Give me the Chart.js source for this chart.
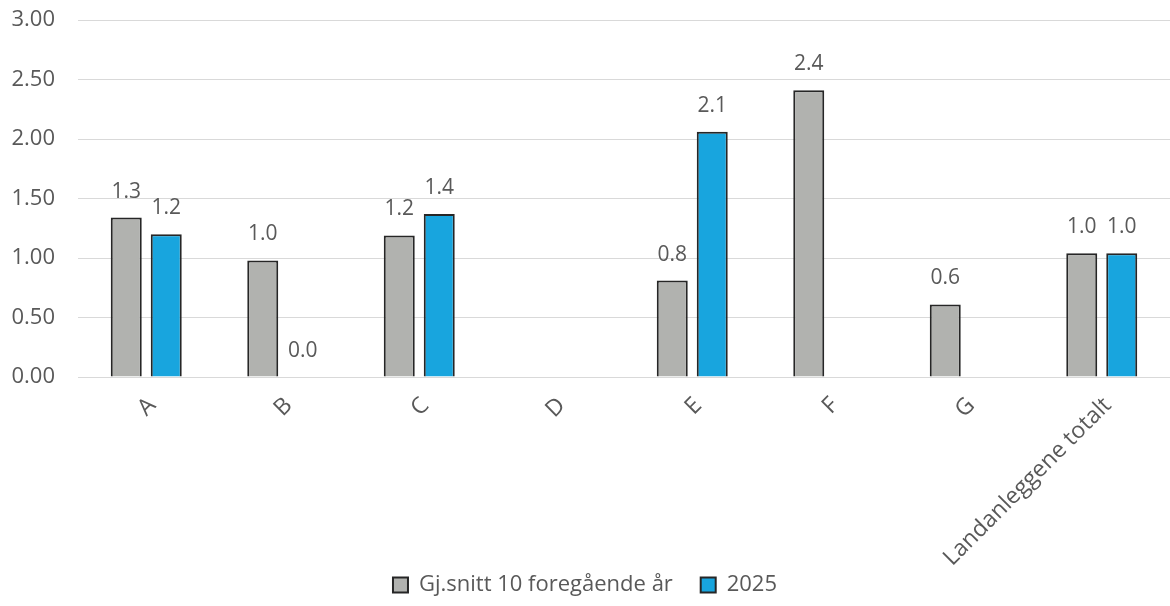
<!DOCTYPE html>
<html>
<head>
  <meta charset="utf-8" />
  <title>Gjennomsnitt per anlegg</title>
  <script src="https://cdn.jsdelivr.net/npm/chart.js"></script>
  <style>
    html, body {
      margin: 0;
      padding: 0;
      background: #fff;
    }
    #wrap {
      width: 1170px;
      height: 606px;
    }
  </style>
</head>
<body>
  <div id="wrap"><canvas id="chart"></canvas></div>

  <script>
    var categories = ['A', 'B', 'C', 'D', 'E', 'F', 'G', 'Landanleggene totalt'];
    var avgTenYears = [1.34, 0.98, 1.19, null, 0.81, 2.41, 0.61, 1.04];
    var year2025 = [1.20, 0.0, 1.37, null, 2.06, null, null, 1.04];
    var yTicks = [0, 0.5, 1, 1.5, 2, 2.5, 3];

    var fontFamily = '"Open Sans", "Noto Sans", sans-serif';
    var textColor = '#595959';

    // value labels above each bar
    var valueLabels = {
      id: 'valueLabels',
      afterDatasetsDraw: function (chart) {
        var ctx = chart.ctx;
        ctx.save();
        ctx.font = '21px ' + fontFamily;
        ctx.fillStyle = textColor;
        ctx.textAlign = 'center';
        ctx.textBaseline = 'middle';
        chart.data.datasets.forEach(function (ds, i) {
          var meta = chart.getDatasetMeta(i);
          meta.data.forEach(function (bar, j) {
            var v = ds.data[j];
            if (v === null || v === undefined) return;
            ctx.fillText(v.toFixed(1), bar.x, bar.y - 26);
          });
        });
        ctx.restore();
      }
    };

    var ctx = document.getElementById('chart').getContext('2d');
    new Chart(ctx, {
      type: 'bar',
      data: {
        labels: categories,
        datasets: [{
          label: 'Gj.snitt 10 foregående år',
          data: avgTenYears,
          backgroundColor: '#b1b2af',
          borderColor: '#262626',
          borderWidth: 2,
          borderSkipped: 'bottom'
        }, {
          label: '2025',
          data: year2025,
          backgroundColor: '#18a5de',
          borderColor: '#262626',
          borderWidth: 2,
          borderSkipped: 'bottom'
        }]
      },
      options: {
        responsive: true,
        maintainAspectRatio: false,
        animation: false,
        categoryPercentage: 0.586,
        barPercentage: 0.775,
        layout: {
          padding: { top: 20, left: 0, right: 0, bottom: 0 }
        },
        plugins: {
          tooltip: { enabled: false },
          legend: {
            position: 'bottom',
            labels: {
              font: { family: fontFamily, size: 22 },
              color: textColor,
              boxWidth: 15,
              boxHeight: 15,
              padding: 5,
              // extra room between the two legend entries
              generateLabels: function (chart) {
                var items = Chart.defaults.plugins.legend.labels.generateLabels(chart);
                items.forEach(function (item, i) {
                  if (i < items.length - 1) item.text += '    ';
                });
                return items;
              }
            }
          }
        },
        scales: {
          x: {
            grid: { display: false },
            border: { display: false },
            afterFit: function (scale) {
              scale.height = 192;
            },
            ticks: {
              font: { family: fontFamily, size: 23 },
              color: textColor,
              minRotation: 45,
              maxRotation: 45,
              labelOffset: 6,
              padding: 7
            }
          },
          y: {
            min: 0,
            max: 3,
            afterBuildTicks: function (scale) {
              scale.ticks = yTicks.map(function (v) { return { value: v }; });
            },
            afterFit: function (scale) {
              scale.width = 78;
              scale.paddingTop = 0;
              scale.paddingBottom = 0;
            },
            grid: {
              color: '#d9d9d9',
              lineWidth: 1,
              drawTicks: false
            },
            border: { display: false },
            ticks: {
              font: { family: fontFamily, size: 22 },
              color: textColor,
              padding: 23,
              callback: function (v) { return Number(v).toFixed(2); }
            }
          }
        }
      },
      plugins: [valueLabels]
    });
  </script>
</body>
</html>
